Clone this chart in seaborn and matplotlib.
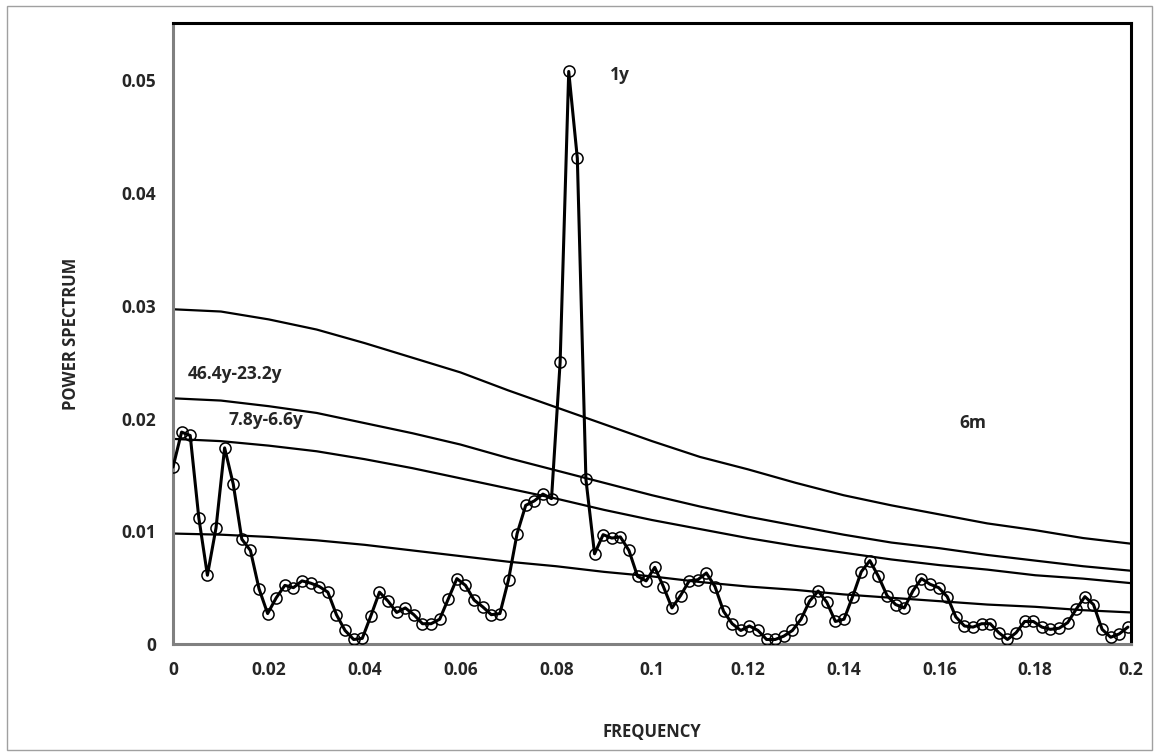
import numpy as np
import pandas as pd
import matplotlib
matplotlib.use("Agg")
import matplotlib.pyplot as plt
import seaborn as sns
from matplotlib.patches import Rectangle

# ---- data -------------------------------------------------------------
n_months = 556.8  # record length (46.4 y of monthly data)
freq = np.arange(112) / n_months

power = [0.0157, 0.0188, 0.0185, 0.0112, 0.0061, 0.0103, 0.0174, 0.0142,
         0.0093, 0.0083, 0.0049, 0.0027, 0.0041, 0.0052, 0.0050, 0.0056,
         0.0054, 0.0051, 0.0046, 0.0026, 0.0012, 0.0004, 0.0005, 0.0025,
         0.0046, 0.0038, 0.0028, 0.0032, 0.0026, 0.0018, 0.0018, 0.0022,
         0.0040, 0.0058, 0.0052, 0.0039, 0.0033, 0.0026, 0.0027, 0.0057,
         0.0098, 0.0123, 0.0127, 0.0133, 0.0129, 0.0250, 0.0508, 0.0431,
         0.0146, 0.0080, 0.0097, 0.0094, 0.0095, 0.0083, 0.0060, 0.0056,
         0.0068, 0.0051, 0.0032, 0.0043, 0.0056, 0.0057, 0.0063, 0.0051,
         0.0029, 0.0018, 0.0012, 0.0016, 0.0012, 0.0004, 0.0004, 0.0007,
         0.0012, 0.0022, 0.0038, 0.0047, 0.0037, 0.0020, 0.0022, 0.0042,
         0.0064, 0.0074, 0.0060, 0.0043, 0.0035, 0.0032, 0.0047, 0.0058,
         0.0053, 0.0050, 0.0042, 0.0024, 0.0016, 0.0015, 0.0018, 0.0018,
         0.0010, 0.0004, 0.0010, 0.0020, 0.0020, 0.0015, 0.0013, 0.0014,
         0.0019, 0.0031, 0.0042, 0.0035, 0.0013, 0.0006, 0.0009, 0.0015]

curve_f = [0.00, 0.01, 0.02, 0.03, 0.04, 0.05, 0.06, 0.07, 0.08, 0.09, 0.10,
           0.11, 0.12, 0.13, 0.14, 0.15, 0.16, 0.17, 0.18, 0.19, 0.20]
curve_1 = [0.0297, 0.0295, 0.0288, 0.0279, 0.0267, 0.0254, 0.0241, 0.0225,
           0.0210, 0.0195, 0.0180, 0.0166, 0.0155, 0.0143, 0.0132, 0.0123,
           0.0115, 0.0107, 0.0101, 0.0094, 0.0089]
curve_2 = [0.0218, 0.0216, 0.0211, 0.0205, 0.0196, 0.0187, 0.0177, 0.0165,
           0.0154, 0.0143, 0.0132, 0.0122, 0.0113, 0.0105, 0.0097, 0.0090,
           0.0085, 0.0079, 0.0074, 0.0069, 0.0065]
curve_3 = [0.0182, 0.0180, 0.0176, 0.0171, 0.0164, 0.0156, 0.0147, 0.0138,
           0.0129, 0.0119, 0.0110, 0.0102, 0.0094, 0.0087, 0.0081, 0.0075,
           0.0070, 0.0066, 0.0061, 0.0058, 0.0054]
curve_4 = [0.0098, 0.0097, 0.0095, 0.0092, 0.0088, 0.0083, 0.0078, 0.0073,
           0.0069, 0.0064, 0.0060, 0.0055, 0.0051, 0.0048, 0.0044, 0.0041,
           0.0038, 0.0035, 0.0033, 0.0030, 0.0028]

x_ticks = [0, 0.02, 0.04, 0.06, 0.08, 0.1, 0.12, 0.14, 0.16, 0.18, 0.2]
x_tick_labels = ["0", "0.02", "0.04", "0.06", "0.08", "0.1", "0.12", "0.14",
                 "0.16", "0.18", "0.2"]
y_ticks = [0, 0.01, 0.02, 0.03, 0.04, 0.05]
y_tick_labels = ["0", "0.01", "0.02", "0.03", "0.04", "0.05"]

annotations = [("1y", 0.0912, 0.0505), ("6m", 0.1641, 0.0196),
               ("46.4y-23.2y", 0.0030, 0.0240), ("7.8y-6.6y", 0.0115, 0.0199)]

# ---- plotting ---------------------------------------------------------
sns.set_style("white")
plt.rcParams["font.family"] = ["Open Sans", "DejaVu Sans"]
plt.rcParams["font.weight"] = "bold"

FS = 12.5

fig = plt.figure(figsize=(11.6, 7.56), dpi=100)
ax = fig.add_axes([173 / 1160, 1 - 644 / 756, (1131 - 173) / 1160, (644 - 23) / 756])

curves = pd.DataFrame({"f": curve_f * 4,
                       "p": curve_1 + curve_2 + curve_3 + curve_4,
                       "c": ["c1"] * 21 + ["c2"] * 21 + ["c3"] * 21 + ["c4"] * 21})
sns.lineplot(data=curves, x="f", y="p", units="c", estimator=None,
             color="black", linewidth=1.6, ax=ax)

spec = pd.DataFrame({"f": freq, "p": power})
sns.lineplot(data=spec, x="f", y="p", color="black", linewidth=2.2,
             marker="o", markersize=8, markerfacecolor="none",
             markeredgecolor="black", markeredgewidth=1.1, ax=ax, zorder=5)

ax.set_xlim(0, 0.2)
ax.set_ylim(0, 0.0551)
ax.set_xticks(x_ticks)
ax.set_xticklabels(x_tick_labels)
ax.set_yticks(y_ticks)
ax.set_yticklabels(y_tick_labels)
ax.tick_params(axis="both", direction="out", length=5, width=1.2,
               color="#808080", labelsize=FS, pad=7)
for lab in ax.get_xticklabels() + ax.get_yticklabels():
    lab.set_fontweight("bold")

ax.spines["left"].set_color("#808080")
ax.spines["bottom"].set_color("#808080")
ax.spines["left"].set_linewidth(2.2)
ax.spines["bottom"].set_linewidth(2.2)
ax.spines["top"].set_color("black")
ax.spines["right"].set_color("black")
ax.spines["top"].set_linewidth(2.2)
ax.spines["right"].set_linewidth(2.2)
for s in ax.spines.values():
    s.set_visible(True)

ax.set_xlabel("FREQUENCY", fontsize=FS - 0.5, fontweight="bold", labelpad=32)
ax.set_ylabel("POWER SPECTRUM", fontsize=FS - 0.5, fontweight="bold", labelpad=30)

for txt, xf, yf in annotations:
    ax.text(xf, yf, txt, fontsize=FS, fontweight="bold", ha="left", va="center")

fig.patches.append(Rectangle((7 / 1160, 1 - 750 / 756), (1152 - 7) / 1160,
                             (750 - 6) / 756, transform=fig.transFigure,
                             fill=False, edgecolor="#a0a0a0", linewidth=1.0))

fig.savefig("out.png", dpi=100)
